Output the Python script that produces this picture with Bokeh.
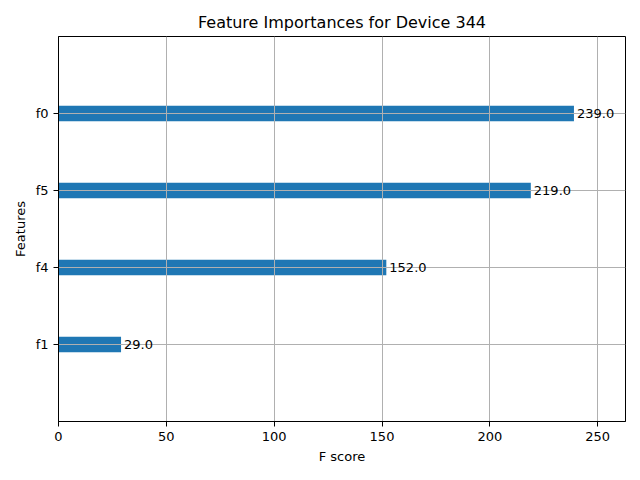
from bokeh.plotting import figure
from bokeh.models import ColumnDataSource, FixedTicker, Range1d
from bokeh.embed import file_html
from bokeh.resources import INLINE
from bokeh.core.properties import value

features = ["f1", "f4", "f5", "f0"]
scores = [29.0, 152.0, 219.0, 239.0]
labels = [f"{s:.1f}" for s in scores]
positions = list(range(len(features)))

FONT = "DejaVu Sans"

p = figure(
    width=632, height=472,
    output_backend="svg", toolbar_location=None,
    x_range=Range1d(0, max(scores) * 1.1),
    y_range=Range1d(-1, len(features)),
    title="Feature Importances for Device 344",
    min_border_left=58, min_border_right=7, min_border_top=36, min_border_bottom=51,
)
p.frame_width = 567
p.frame_height = 385

src = ColumnDataSource(dict(y=positions, right=scores, label=labels))
p.hbar(y="y", left=0, right="right", height=0.2, source=src,
       fill_color="#1f77b4", line_color=None, level="image")
p.text(x="right", y="y", text="label", source=src, x_offset=3,
       text_baseline="middle", text_align="left",
       text_font=value(FONT), text_font_size="13px", text_color="black")

p.title.align = "center"
p.title.text_font = FONT
p.title.text_font_size = "16px"
p.title.text_font_style = "normal"
p.title.text_color = "black"

p.xaxis.axis_label = "F score"
p.yaxis.axis_label = "Features"
for ax in (p.xaxis, p.yaxis):
    ax.axis_label_text_font = FONT
    ax.axis_label_text_font_size = "13px"
    ax.axis_label_text_font_style = "normal"
    ax.axis_label_text_color = "black"
    ax.major_label_text_font = FONT
    ax.major_label_text_font_size = "13px"
    ax.major_label_text_color = "black"
    ax.minor_tick_line_color = None
    ax.major_tick_out = 5
    ax.major_tick_in = 0
    ax.axis_line_color = "black"
    ax.major_tick_line_color = "black"

p.xaxis.ticker = FixedTicker(ticks=[0, 50, 100, 150, 200, 250])
p.yaxis.ticker = FixedTicker(ticks=positions)
p.yaxis.major_label_overrides = {i: f for i, f in enumerate(features)}

p.xgrid.grid_line_color = "#b0b0b0"
p.ygrid.grid_line_color = "#b0b0b0"
p.xgrid.grid_line_width = 1
p.ygrid.grid_line_width = 1

p.outline_line_color = "black"
p.outline_line_alpha = 1
p.background_fill_color = "white"
p.border_fill_color = "white"

open("out.html", "w").write(file_html(p, INLINE))
